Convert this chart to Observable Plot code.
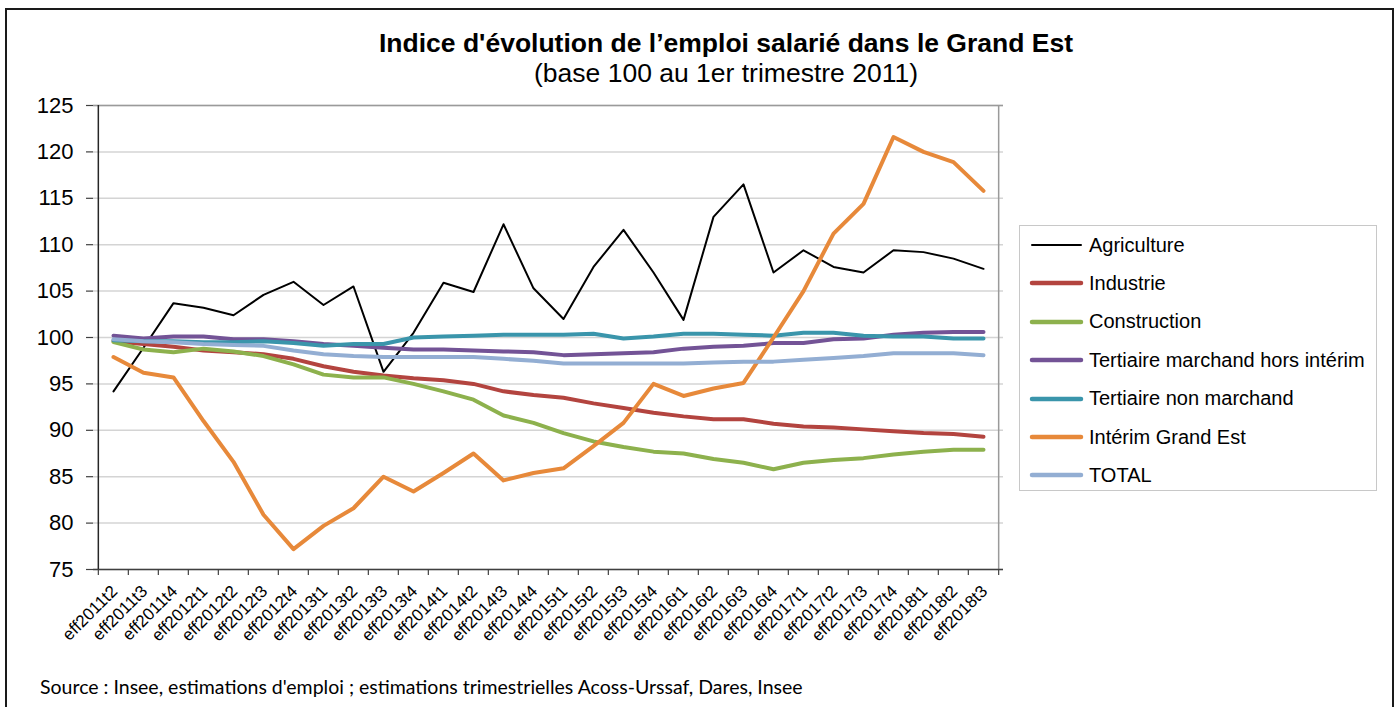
<!DOCTYPE html>
<html>
<head>
<meta charset="utf-8">
<script src="https://cdn.jsdelivr.net/npm/d3@7"></script>
<script src="https://cdn.jsdelivr.net/npm/@observablehq/plot@0.6"></script>
<style>
  html, body { margin: 0; padding: 0; background: #fff; }
  #page { position: relative; width: 1398px; height: 707px; overflow: hidden; background: #fff; font-family: "Liberation Sans", Arial, sans-serif; }
  #outer { position: absolute; left: 5px; top: 8px; width: 1385px; height: 720px; border: 2px solid #1a1a1a; }
  #title { position: absolute; left: 226px; width: 1000px; top: 30px; text-align: center; font-size: 26.5px; line-height: 26px; font-weight: bold; color: #000; }
  #subtitle { position: absolute; left: 226px; width: 1000px; top: 60px; text-align: center; font-size: 26.5px; line-height: 26px; color: #000; }
  #chart { position: absolute; left: 0; top: 90px; }
  #legend { position: absolute; left: 1019px; top: 225px; width: 358px; height: 266px; border: 1.5px solid #c8c8c8; box-sizing: border-box; }
  .item { position: absolute; left: 9px; height: 24px; display: flex; align-items: center; font-size: 20px; color: #000; white-space: nowrap; }
  .item svg { margin-right: 5px; }
  #source { position: absolute; left: 40px; top: 675px; font-family: Lato, "Open Sans", sans-serif; font-size: 19.5px; color: #000; white-space: nowrap; }
</style>
</head>
<body>
<div id="page">
  <div id="outer"></div>
  <div id="title">Indice d'évolution de l’emploi salarié dans le Grand Est</div>
  <div id="subtitle">(base 100 au 1er trimestre 2011)</div>
  <div id="chart"></div>
  <div id="legend"></div>
  <div id="source">Source : Insee, estimations d'emploi ; estimations trimestrielles Acoss-Urssaf, Dares, Insee</div>
</div>
<script>
const quarters = [
  "eff2011t2","eff2011t3","eff2011t4",
  "eff2012t1","eff2012t2","eff2012t3","eff2012t4",
  "eff2013t1","eff2013t2","eff2013t3","eff2013t4",
  "eff2014t1","eff2014t2","eff2014t3","eff2014t4",
  "eff2015t1","eff2015t2","eff2015t3","eff2015t4",
  "eff2016t1","eff2016t2","eff2016t3","eff2016t4",
  "eff2017t1","eff2017t2","eff2017t3","eff2017t4",
  "eff2018t1","eff2018t2","eff2018t3"
];
const yTicks = [75, 80, 85, 90, 95, 100, 105, 110, 115, 120, 125];

const agriculture = [94.2, 98.9, 103.7, 103.2, 102.4, 104.6, 106.0, 103.5, 105.5, 96.3, 100.5, 105.9, 104.9, 112.2, 105.3, 102.0, 107.6, 111.6, 107.0, 101.9, 113.0, 116.5, 107.0, 109.4, 107.6, 107.0, 109.4, 109.2, 108.5, 107.4];
const industrie = [99.6, 99.3, 99.0, 98.6, 98.4, 98.2, 97.7, 96.9, 96.3, 95.9, 95.6, 95.4, 95.0, 94.2, 93.8, 93.5, 92.9, 92.4, 91.9, 91.5, 91.2, 91.2, 90.7, 90.4, 90.3, 90.1, 89.9, 89.7, 89.6, 89.3];
const construction = [99.5, 98.7, 98.4, 98.8, 98.5, 98.0, 97.1, 96.0, 95.7, 95.7, 95.0, 94.2, 93.3, 91.6, 90.8, 89.7, 88.8, 88.2, 87.7, 87.5, 86.9, 86.5, 85.8, 86.5, 86.8, 87.0, 87.4, 87.7, 87.9, 87.9];
const tertiaireMarchand = [100.2, 99.9, 100.1, 100.1, 99.8, 99.8, 99.6, 99.3, 99.1, 98.9, 98.7, 98.7, 98.6, 98.5, 98.4, 98.1, 98.2, 98.3, 98.4, 98.8, 99.0, 99.1, 99.4, 99.4, 99.8, 99.9, 100.3, 100.5, 100.6, 100.6];
const tertiaireNonMarchand = [99.7, 99.6, 99.6, 99.5, 99.5, 99.6, 99.4, 99.1, 99.3, 99.3, 100.0, 100.1, 100.2, 100.3, 100.3, 100.3, 100.4, 99.9, 100.1, 100.4, 100.4, 100.3, 100.2, 100.5, 100.5, 100.2, 100.1, 100.1, 99.9, 99.9];
const interim = [97.9, 96.2, 95.7, 91.0, 86.6, 80.9, 77.2, 79.7, 81.6, 85.0, 83.4, 85.4, 87.5, 84.6, 85.4, 85.9, 88.3, 90.8, 95.0, 93.7, 94.5, 95.1, 100.0, 105.0, 111.2, 114.4, 121.6, 120.0, 118.9, 115.8];
const total = [99.8, 99.6, 99.5, 99.3, 99.2, 99.1, 98.6, 98.2, 98.0, 97.9, 97.9, 97.9, 97.9, 97.7, 97.5, 97.2, 97.2, 97.2, 97.2, 97.2, 97.3, 97.4, 97.4, 97.6, 97.8, 98.0, 98.3, 98.3, 98.3, 98.1];

const seriesNames = ["Agriculture", "Industrie", "Construction", "Tertiaire marchand hors intérim", "Tertiaire non marchand", "Intérim Grand Est", "TOTAL"];
const seriesValues = [agriculture, industrie, construction, tertiaireMarchand, tertiaireNonMarchand, interim, total];
const seriesColors = ["#000000", "#b3443f", "#8db14d", "#735396", "#3a95ab", "#e7893a", "#93aed3"];
const seriesWidths = [2, 4, 4, 4, 4, 4, 4];

const rows = seriesNames.flatMap((name, s) =>
  quarters.map((q, i) => ({series: name, q, v: seriesValues[s][i]}))
);

const W = 1010, H = 570, ML = 93, MR = 7, MT = 15, MB = 91;
const half = (W - ML - MR) / quarters.length / 2;

const lineMarks = seriesNames.map((name, s) =>
  Plot.line(rows.filter(d => d.series === name), {
    x: "q", y: "v", stroke: seriesColors[s], strokeWidth: seriesWidths[s],
    strokeLinejoin: "round", strokeLinecap: "round"
  })
);

const chart = Plot.plot({
  width: W, height: H,
  marginLeft: ML, marginRight: MR, marginTop: MT, marginBottom: MB,
  style: {fontFamily: "'Liberation Sans', Arial, sans-serif", fontSize: "22px", color: "#000", background: "transparent"},
  x: {type: "point", domain: quarters, padding: 0.5, axis: null},
  y: {domain: [75, 125], axis: null},
  marks: [
    Plot.gridY(yTicks, {stroke: "#d4d4d4", strokeOpacity: 1, strokeWidth: 1.5}),
    Plot.ruleY([125], {stroke: "#9a9a9a", strokeWidth: 1.5}),
    Plot.ruleX([quarters[quarters.length - 1]], {dx: half, stroke: "#9a9a9a", strokeWidth: 1.5}),
    ...lineMarks,
    Plot.ruleY([75], {stroke: "#404040", strokeWidth: 1.5}),
    Plot.ruleX([quarters[0]], {dx: -half, stroke: "#262626", strokeWidth: 1.5}),
    Plot.axisY(yTicks, {label: null, tickSize: 7, tickPadding: 13, fontSize: 22, stroke: "#404040", strokeWidth: 1.2, fill: "#000"}),
    Plot.axisX(quarters, {label: null, tickSize: 6, dx: -half, tickFormat: () => "", stroke: "#404040", strokeWidth: 1.2}),
    Plot.axisX([quarters[quarters.length - 1]], {label: null, tickSize: 6, dx: half, tickFormat: () => "", stroke: "#404040", strokeWidth: 1.2}),
    Plot.text(quarters, {
      x: d => d, text: d => d, frameAnchor: "bottom",
      rotate: -45, textAnchor: "end", lineAnchor: "middle",
      dx: 1, dy: 19, fontSize: 17, fill: "#000", ariaLabel: "xlabels"
    })
  ]
});
document.getElementById("chart").appendChild(chart);
d3.select(chart).selectAll("g[aria-label='xlabels'] text").style("letter-spacing", "1.3px");

const legend = document.getElementById("legend");
seriesNames.forEach((name, s) => {
  const item = document.createElement("div");
  item.className = "item";
  item.style.top = (19 + s * 38.4 - 12) + "px";
  item.innerHTML = `<svg width="55" height="8"><line x1="3" y1="4" x2="52" y2="4" stroke="${seriesColors[s]}" stroke-width="${seriesWidths[s] === 2 ? 2 : 4.5}" stroke-linecap="round"/></svg><span>${name}</span>`;
  legend.appendChild(item);
});
</script>
</body>
</html>
